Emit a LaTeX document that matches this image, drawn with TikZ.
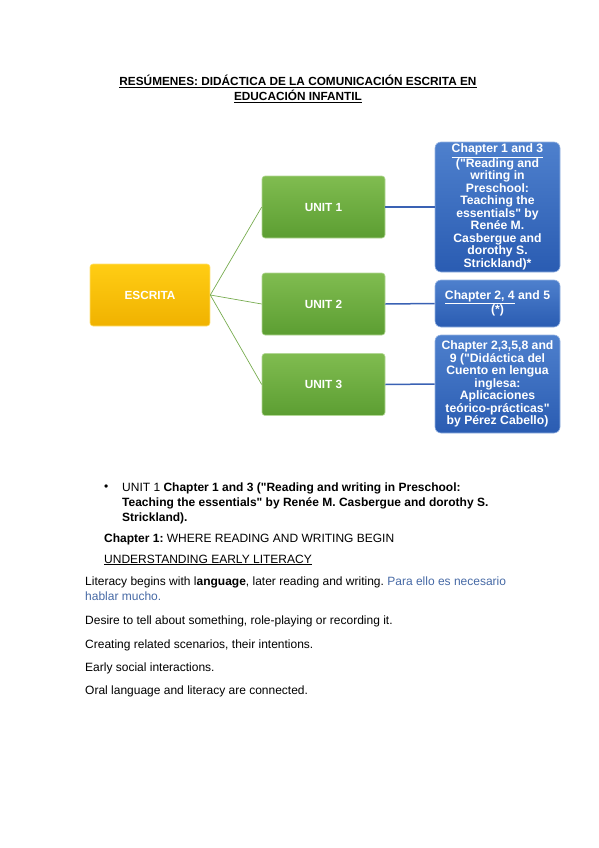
\documentclass[tikz,border=0pt]{standalone}
\usepackage{fontspec}
\setmainfont{Liberation Sans}[Ligatures=TeXOff]
\usepackage{xcolor}
\usetikzlibrary{positioning}
\frenchspacing

\definecolor{escritatop}{RGB}{255,205,20}
\definecolor{escritabot}{RGB}{240,178,0}
\definecolor{unittop}{RGB}{128,188,80}
\definecolor{unitbot}{RGB}{92,158,50}
\definecolor{chaptop}{RGB}{78,128,205}
\definecolor{chapbot}{RGB}{42,92,178}
\definecolor{branchgreen}{RGB}{120,172,80}
\definecolor{linkblue}{RGB}{58,98,180}
\definecolor{noteblue}{RGB}{70,105,165}

\begin{document}
\begin{tikzpicture}[
    x=1pt, y=-1pt,
    escrita/.style={rectangle, rounded corners=3pt, minimum width=120pt, minimum height=62pt, top color=escritatop, bottom color=escritabot, draw=escritatop!60!white, line width=0.6pt, text=white, font=\bfseries\fontsize{11.8}{13}\selectfont},
    unitbox/.style={rectangle, rounded corners=3pt, minimum width=123pt, minimum height=62pt, top color=unittop, bottom color=unitbot, draw=unittop!60!white, line width=0.6pt, text=white, font=\bfseries\fontsize{11.8}{13}\selectfont},
    chapbox/.style={rectangle, rounded corners=6pt, minimum width=125pt, top color=chaptop, bottom color=chapbot, draw=chaptop!60!white, line width=0.6pt, text=white, align=center, inner sep=1pt, font=\bfseries\fontsize{12.2}{12.5}\selectfont},
    bodytext/.style={anchor=base west, inner sep=0pt, align=left, font=\fontsize{12}{15}\selectfont},
    branch/.style={draw=branchgreen, line width=0.7pt},
    link/.style={draw=linkblue, line width=1.5pt}
]
\useasboundingbox (0,0) rectangle (599,848);

% Title
\node[inner sep=0pt, align=center, font=\bfseries\fontsize{11.8}{15}\selectfont] (title) at (298,89)
    {\underline{RESÚMENES: DIDÁCTICA DE LA COMUNICACIÓN ESCRITA EN}\\\underline{EDUCACIÓN INFANTIL}};

% Diagram boxes
\node[escrita] (escrita) at (150,295) {ESCRITA};
\node[unitbox] (unit1) at (323.5,207) {UNIT 1};
\node[unitbox] (unit2) at (323.5,304) {UNIT 2};
\node[unitbox] (unit3) at (323.5,384.5) {UNIT 3};

\node[chapbox, minimum height=130pt] (chap1) at (497.5,207)
    {\underline{Chapter 1 and 3}\\("Reading and\\writing in\\Preschool:\\Teaching the\\essentials" by\\Renée M.\\Casbergue and\\dorothy S.\\Strickland)*};
\node[chapbox, minimum height=47pt] (chap2) at (497.5,303.5)
    {\underline{Chapter 2, 4} and 5\\(*)};
\node[chapbox, minimum height=98pt] (chap3) at (497.5,384)
    {Chapter 2,3,5,8 and\\9 ("Didáctica del\\Cuento en lengua\\inglesa:\\Aplicaciones\\teórico-prácticas"\\by Pérez Cabello)};

% Connections
\draw[branch] (escrita.east) -- (unit1.west);
\draw[branch] (escrita.east) -- (unit2.west);
\draw[branch] (escrita.east) -- (unit3.west);
\draw[link] (unit1.east) -- (chap1.west);
\draw[link] (unit2.east) -- (chap2.west);
\draw[link] (unit3.east) -- (chap3.west);

% Notes below the diagram (base of a multi-line node = its last line)
\node[bodytext] (bullet) at (104,490) {•};
\node[bodytext] (unitline) at (122,521)
    {UNIT 1 \textbf{Chapter 1 and 3 ("Reading and writing in Preschool:}\\
     \textbf{Teaching the essentials" by Renée M. Casbergue and dorothy S.}\\
     \textbf{Strickland).}};
\node[bodytext] (chapone) at (104,542) {\textbf{Chapter 1:} WHERE READING AND WRITING BEGIN};
\node[bodytext] (understanding) at (104,563) {\underline{UNDERSTANDING EARLY LITERACY}};
\node[bodytext] (literacy) at (85,600)
    {Literacy begins with l\textbf{anguage}, later reading and writing. \textcolor{noteblue}{Para ello es necesario}\\
     \textcolor{noteblue}{hablar mucho.}};
\node[bodytext] (desire) at (85,624) {Desire to tell about something, role-playing or recording it.};
\node[bodytext] (creating) at (85,648) {Creating related scenarios, their intentions.};
\node[bodytext] (social) at (85,671) {Early social interactions.};
\node[bodytext] (oral) at (85,694) {Oral language and literacy are connected.};

\end{tikzpicture}
\end{document}
